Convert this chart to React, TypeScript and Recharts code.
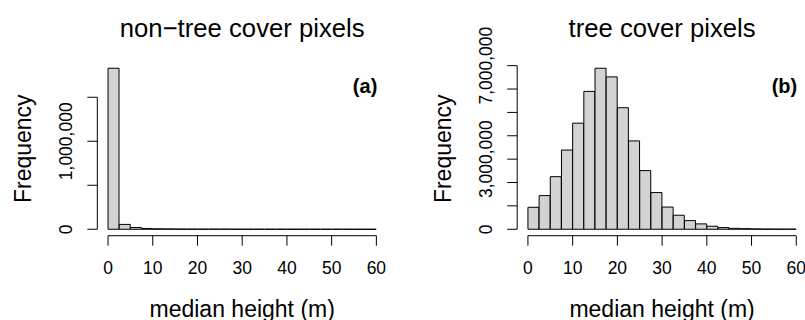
import React from "react";
import { Bar, BarChart, ReferenceLine, XAxis, YAxis } from "recharts";

// histogram bins (left edge, 2.5 m wide)
const binStarts = [0, 2.5, 5, 7.5, 10, 12.5, 15, 17.5, 20, 22.5, 25, 27.5, 30, 32.5, 35, 37.5, 40, 42.5, 45, 47.5, 50, 52.5, 55, 57.5];

const nonTreeCounts = [
  1830000, 55000, 20000, 9000, 5000, 3500, 2500, 2000, 1600, 1300, 1100, 900,
  800, 700, 600, 500, 400, 350, 300, 250, 200, 150, 100, 60,
];

const treeCounts = [
  940000, 1440000, 2250000, 3390000, 4540000, 5900000, 6890000, 6520000, 5200000, 3780000, 2510000, 1570000,
  950000, 600000, 370000, 230000, 130000, 70000, 40000, 25000, 15000, 10000, 6000, 4000,
];

const xTicks = [0, 10, 20, 30, 40, 50, 60];
const nonTreeYTicks = [0, 500000, 1000000, 1500000];
const nonTreeYLabels = [0, 1000000];
const treeYTicks = [0, 1000000, 2000000, 3000000, 4000000, 5000000, 6000000, 7000000];
const treeYLabels = [0, 3000000, 7000000];

const FONT = "'Liberation Sans', Arial, Helvetica, sans-serif";
const H = 320;
const PLOT_TOP = 61.8;
const PLOT_BOTTOM = 235.7;
const PLOT_W = 289.8;
const Y_AXIS_W = 60;
const X_AXIS_H = 40;
// R extends the plotting region 4% beyond the data range
const X_MIN = -2.4;
const X_MAX = 62.4;
const PAD = (PLOT_W * 2.4) / (X_MAX - X_MIN);

const fmt = (v: number) => v.toLocaleString("en-US");

interface PanelProps {
  counts: number[];
  yTicks: number[];
  yLabels: number[];
  title: string;
  tag: string;
  left: number;
  width: number;
  plotLeft: number;
}

function Panel({ counts, yTicks, yLabels, title, tag, left, width, plotLeft }: PanelProps) {
  const data = binStarts.map((b, i) => ({ bin: b, mid: b + 1.25, count: counts[i] }));
  const max = Math.max(...counts);
  const yMin = -0.04 * max;
  const yMax = 1.04 * max;
  const topTick = yTicks[yTicks.length - 1];
  const cx = plotLeft + PLOT_W / 2;
  const cy = (PLOT_TOP + PLOT_BOTTOM) / 2;

  const YTick = (props: any) => {
    const { x, y, payload } = props;
    if (!yLabels.includes(payload.value)) return <g />;
    const bx = x - 13;
    return (
      <text
        x={bx}
        y={y}
        transform={`rotate(-90, ${bx}, ${y})`}
        textAnchor="middle"
        fontSize={17.5}
        fontFamily={FONT}
        fill="#000"
      >
        {fmt(payload.value)}
      </text>
    );
  };

  const XTick = (props: any) => {
    const { x, y, payload } = props;
    return (
      <text x={x} y={y + 26.3} textAnchor="middle" fontSize={17.5} fontFamily={FONT} fill="#000">
        {payload.value}
      </text>
    );
  };

  const localPlotLeft = plotLeft - left;

  return (
    <>
      <div style={{ position: "absolute", left, top: 0, width, height: H }}>
        <BarChart
          width={width}
          height={H}
          data={data}
          barCategoryGap={0}
          barGap={0}
          margin={{
            top: PLOT_TOP,
            bottom: H - PLOT_BOTTOM - X_AXIS_H,
            left: localPlotLeft - Y_AXIS_W,
            right: width - localPlotLeft - PLOT_W,
          }}
        >
          <XAxis
            xAxisId="num"
            type="number"
            dataKey="mid"
            domain={[X_MIN, X_MAX]}
            allowDataOverflow
            ticks={xTicks}
            interval={0}
            axisLine={false}
            stroke="#000"
            tickSize={10}
            tick={XTick}
            height={X_AXIS_H}
          />
          <XAxis xAxisId="bins" dataKey="bin" hide height={0} padding={{ left: PAD, right: PAD }} />
          <YAxis
            yAxisId="y"
            type="number"
            domain={[yMin, yMax]}
            allowDataOverflow
            ticks={yTicks}
            interval={0}
            axisLine={false}
            stroke="#000"
            tickSize={10}
            tick={YTick}
            width={Y_AXIS_W}
          />
          <Bar
            xAxisId="bins"
            yAxisId="y"
            dataKey="count"
            fill="#D3D3D3"
            stroke="#000"
            strokeWidth={1}
            isAnimationActive={false}
          />
          <ReferenceLine
            xAxisId="num"
            yAxisId="y"
            segment={[{ x: 0, y: yMin }, { x: 60, y: yMin }]}
            stroke="#000"
            strokeWidth={1}
            ifOverflow="visible"
          />
          <ReferenceLine
            xAxisId="num"
            yAxisId="y"
            segment={[{ x: X_MIN, y: 0 }, { x: X_MIN, y: topTick }]}
            stroke="#000"
            strokeWidth={1}
            ifOverflow="visible"
          />
        </BarChart>
      </div>
      <svg
        width={805}
        height={H}
        style={{ position: "absolute", left: 0, top: 0, pointerEvents: "none" }}
        fontFamily={FONT}
      >
        <text x={cx} y={36.5} textAnchor="middle" fontSize={25.7} fill="#000">
          {title}
        </text>
        <text x={cx} y={316.7} textAnchor="middle" fontSize={23} fill="#000">
          median height (m)
        </text>
        <text
          x={plotLeft - 66}
          y={cy}
          transform={`rotate(-90, ${plotLeft - 66}, ${cy})`}
          textAnchor="middle"
          fontSize={23}
          fill="#000"
        >
          Frequency
        </text>
        <text x={plotLeft + 280} y={92.5} textAnchor="end" fontSize={20} fontWeight="bold" fill="#000">
          {tag}
        </text>
      </svg>
    </>
  );
}

export default function App() {
  return (
    <div
      style={{
        position: "absolute",
        left: 0,
        top: 0,
        width: 805,
        height: H,
        overflow: "hidden",
        background: "#fff",
        fontFamily: FONT,
      }}
    >
      <Panel
        counts={nonTreeCounts}
        yTicks={nonTreeYTicks}
        yLabels={nonTreeYLabels}
        title="non−tree cover pixels"
        tag="(a)"
        left={0}
        width={400}
        plotLeft={97.3}
      />
      <Panel
        counts={treeCounts}
        yTicks={treeYTicks}
        yLabels={treeYLabels}
        title="tree cover pixels"
        tag="(b)"
        left={405}
        width={405}
        plotLeft={517.2}
      />
    </div>
  );
}
